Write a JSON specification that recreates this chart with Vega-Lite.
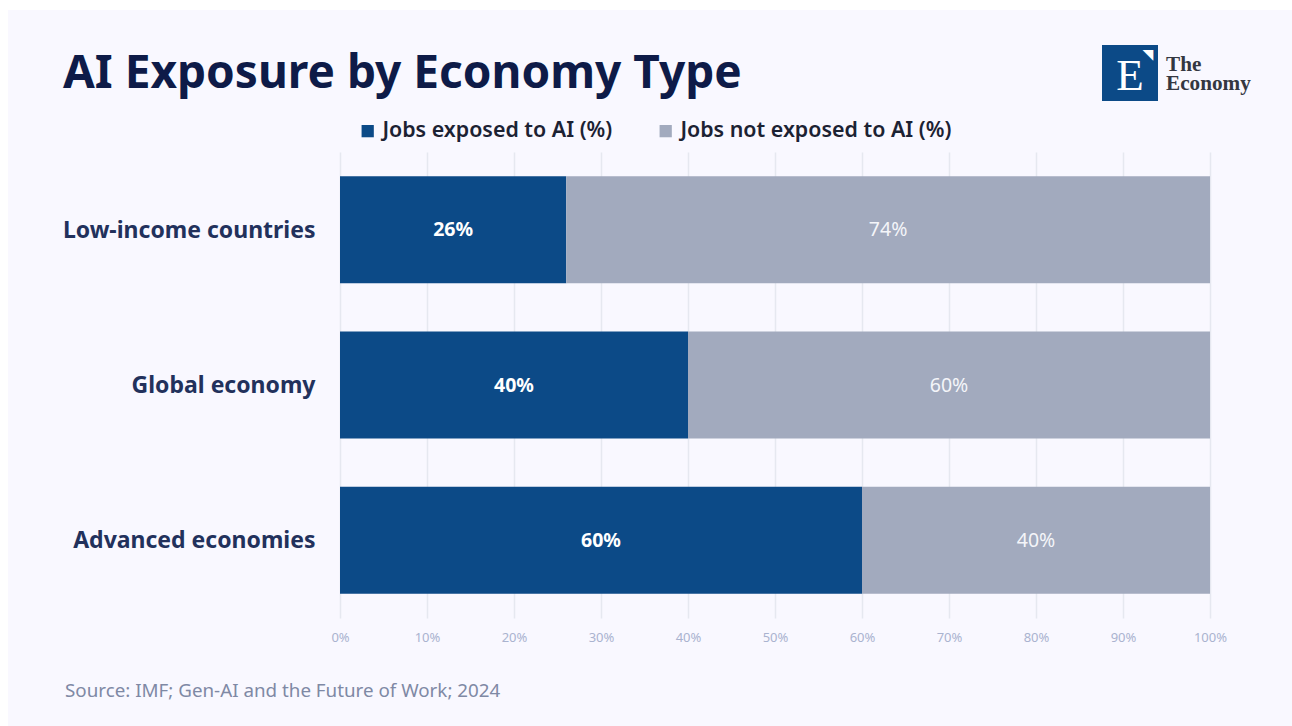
{
  "$schema": "https://vega.github.io/schema/vega-lite/v6.json",
  "width": 870,
  "height": 466,
  "autosize": "none",
  "padding": {"left": 340, "top": 152, "right": 82, "bottom": 108},
  "background": "#f9f8ff",
  "title": {
    "text": "AI Exposure by Economy Type",
    "anchor": "start",
    "frame": "group",
    "offset": 0,
    "dx": -277,
    "dy": 98,
    "font": "Noto Sans",
    "fontWeight": 700,
    "fontSize": 46,
    "color": "#0e1b48"
  },
  "data": {
    "values": [
      {"economy": "Low-income countries", "series": "Jobs exposed to AI (%)", "share": 26},
      {"economy": "Low-income countries", "series": "Jobs not exposed to AI (%)", "share": 74},
      {"economy": "Global economy", "series": "Jobs exposed to AI (%)", "share": 40},
      {"economy": "Global economy", "series": "Jobs not exposed to AI (%)", "share": 60},
      {"economy": "Advanced economies", "series": "Jobs exposed to AI (%)", "share": 60},
      {"economy": "Advanced economies", "series": "Jobs not exposed to AI (%)", "share": 40}
    ]
  },
  "config": {"view": {"stroke": null}},
  "layer": [
    {
      "transform": [
        {"stack": "share", "groupby": ["economy"], "sort": [{"field": "series", "order": "ascending"}], "as": ["start", "end"]}
      ],
      "mark": {"type": "bar", "size": 107},
      "encoding": {
        "y": {
          "field": "economy",
          "type": "nominal",
          "sort": ["Low-income countries", "Global economy", "Advanced economies"],
          "scale": {"paddingInner": 0.31, "paddingOuter": 0.155},
          "axis": {
            "title": null,
            "domain": false,
            "ticks": false,
            "labelPadding": 25,
            "labelOffset": 1,
            "labelFont": "Noto Sans",
            "labelFontWeight": 700,
            "labelFontSize": 23,
            "labelColor": "#22315c",
            "labelLimit": 320
          }
        },
        "x": {
          "field": "start",
          "type": "quantitative",
          "scale": {"domain": [0, 100]},
          "axis": {
            "title": null,
            "values": [0, 10, 20, 30, 40, 50, 60, 70, 80, 90, 100],
            "labelExpr": "datum.value + '%'",
            "labelFlush": false,
            "domain": false,
            "ticks": false,
            "grid": true,
            "gridColor": "#e6e8f0",
            "gridWidth": 1.5,
            "labelPadding": 13,
            "labelFont": "Noto Sans",
            "labelFontSize": 13,
            "labelColor": "#aab3cf"
          }
        },
        "x2": {"field": "end"},
        "color": {
          "field": "series",
          "type": "nominal",
          "scale": {
            "domain": ["Jobs exposed to AI (%)", "Jobs not exposed to AI (%)"],
            "range": ["#0c4a87", "#a2aabe"]
          },
          "legend": {
            "title": null,
            "orient": "none",
            "direction": "horizontal",
            "legendX": 17,
            "legendY": -32,
            "symbolType": "square",
            "symbolSize": 150,
            "symbolStrokeWidth": 0,
            "labelFont": "Noto Sans",
            "labelFontWeight": 600,
            "labelFontSize": 21.4,
            "labelColor": "#1c2233",
            "labelLimit": 320,
            "columnPadding": 42
          }
        }
      }
    },
    {
      "transform": [
        {"stack": "share", "groupby": ["economy"], "sort": [{"field": "series", "order": "ascending"}], "as": ["start", "end"]},
        {"calculate": "(datum.start + datum.end) / 2", "as": "middle"},
        {"calculate": "datum.share + '%'", "as": "label"},
        {"filter": "datum.series === 'Jobs exposed to AI (%)'"}
      ],
      "mark": {"type": "text", "font": "Noto Sans", "fontWeight": 700, "fontSize": 19.5, "dy": 0.5, "color": "#ffffff"},
      "encoding": {
        "y": {"field": "economy", "type": "nominal", "sort": ["Low-income countries", "Global economy", "Advanced economies"]},
        "x": {"field": "middle", "type": "quantitative"},
        "text": {"field": "label"}
      }
    },
    {
      "transform": [
        {"stack": "share", "groupby": ["economy"], "sort": [{"field": "series", "order": "ascending"}], "as": ["start", "end"]},
        {"calculate": "(datum.start + datum.end) / 2", "as": "middle"},
        {"calculate": "datum.share + '%'", "as": "label"},
        {"filter": "datum.series === 'Jobs not exposed to AI (%)'"}
      ],
      "mark": {"type": "text", "font": "Noto Sans", "fontWeight": 400, "fontSize": 19.5, "dy": 0.5, "color": "#f4f5f9"},
      "encoding": {
        "y": {"field": "economy", "type": "nominal", "sort": ["Low-income countries", "Global economy", "Advanced economies"]},
        "x": {"field": "middle", "type": "quantitative"},
        "text": {"field": "label"}
      }
    },
    {
      "data": {"values": [{"note": "Source: IMF; Gen-AI and the Future of Work; 2024"}]},
      "mark": {"type": "text", "align": "left", "baseline": "alphabetic", "font": "Noto Sans", "fontSize": 18.8, "color": "#7f89a5", "clip": false},
      "encoding": {"x": {"value": -275}, "y": {"value": 545}, "text": {"field": "note"}}
    },
    {
      "data": {"values": [{"brand": "logo"}]},
      "mark": {"type": "rect", "fill": "#0c4a87", "clip": false},
      "encoding": {"x": {"value": 762}, "x2": {"value": 818}, "y": {"value": -107}, "y2": {"value": -51}}
    },
    {
      "data": {"values": [{"letter": "E"}]},
      "mark": {"type": "text", "align": "center", "baseline": "alphabetic", "font": "Liberation Serif", "fontSize": 45, "color": "#ffffff", "clip": false},
      "encoding": {"x": {"value": 790}, "y": {"value": -62}, "text": {"field": "letter"}}
    },
    {
      "data": {"values": [{"corner": "◥"}]},
      "mark": {"type": "text", "align": "center", "baseline": "middle", "font": "DejaVu Sans", "fontSize": 14, "color": "#ffffff", "clip": false},
      "encoding": {"x": {"value": 808}, "y": {"value": -97}, "text": {"field": "corner"}}
    },
    {
      "data": {"values": [{"word": "The", "line": -81}, {"word": "Economy", "line": -62}]},
      "mark": {"type": "text", "align": "left", "baseline": "alphabetic", "font": "Liberation Serif", "fontWeight": 700, "fontSize": 21.2, "color": "#343741", "clip": false},
      "encoding": {"x": {"value": 826}, "y": {"field": "line", "type": "quantitative", "scale": null}, "text": {"field": "word"}}
    },
    {
      "data": {"values": [{"edge": "left"}]},
      "mark": {"type": "rect", "fill": "#ffffff", "clip": false},
      "encoding": {"x": {"value": -340}, "x2": {"value": -332}, "y": {"value": -152}, "y2": {"value": 574}}
    },
    {
      "data": {"values": [{"edge": "top"}]},
      "mark": {"type": "rect", "fill": "#ffffff", "clip": false},
      "encoding": {"x": {"value": -340}, "x2": {"value": 952}, "y": {"value": -152}, "y2": {"value": -142}}
    }
  ]
}
